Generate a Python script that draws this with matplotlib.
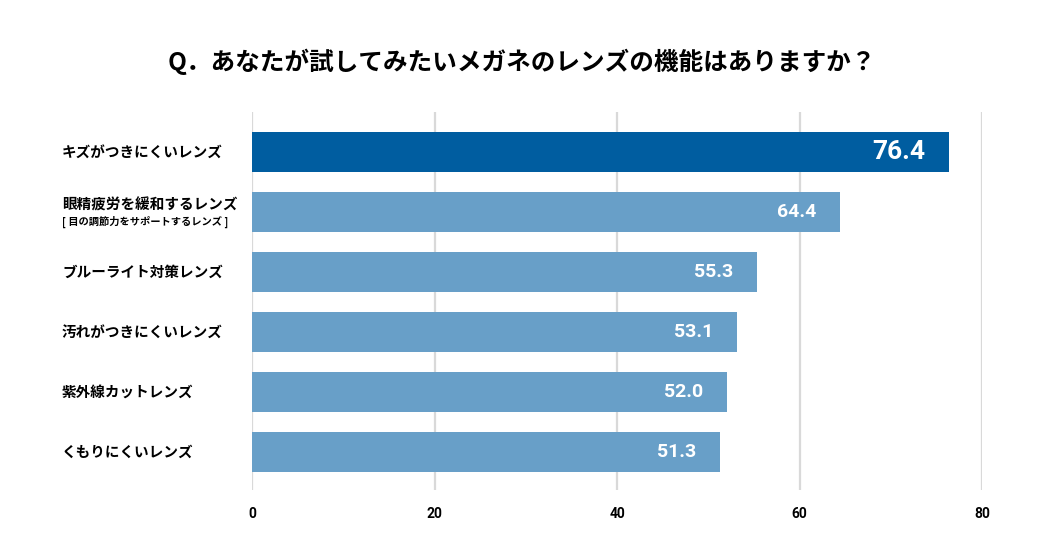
import matplotlib
matplotlib.use("Agg")
import matplotlib.pyplot as plt
from matplotlib.transforms import blended_transform_factory

categories = ["キズがつきにくいレンズ", "眼精疲労を緩和するレンズ", "ブルーライト対策レンズ",
              "汚れがつきにくいレンズ", "紫外線カットレンズ", "くもりにくいレンズ"]
sublabels = ["", "[ 目の調節力をサポートするレンズ ]", "", "", "", ""]
values = [76.4, 64.4, 55.3, 53.1, 52.0, 51.3]
xticks = [0, 20, 40, 60, 80]
title = "Q．あなたが試してみたいメガネのレンズの機能はありますか？"

CJK = ["Noto Sans CJK JP", "DejaVu Sans"]
plt.rcParams['font.family'] = CJK

fig = plt.figure(figsize=(10.44, 5.58), dpi=100)
ax = fig.add_axes([252/1044, 1-490/558, 730/1044, 378/558])

colors = ["#005DA0"] + ["#689FC8"] * (len(values) - 1)
ypos = list(range(len(values)))
for x in xticks:
    ax.axvline(x, color="#d9d9d9", lw=1.6, zorder=0)
ax.barh(ypos, values, height=0.667, color=colors, zorder=2)

ax.set_xlim(0, 80)
ax.set_ylim(5.633, -0.667)
ax.set_yticks([])
ax.set_xticks(xticks)
ax.set_xticklabels([str(t) for t in xticks], fontfamily="Roboto", fontweight="bold", fontsize=10)
ax.tick_params(axis="x", length=0, pad=12)
for s in ax.spines.values():
    s.set_visible(False)

for i, v in enumerate(values):
    fs = 19 if i == 0 else 14
    ax.annotate(f"{v:.1f}", xy=(v, i), xytext=(-17, 0), textcoords="offset points",
                ha="right", va="center", color="white", fontfamily="Roboto",
                fontweight="bold", fontsize=fs, zorder=3)

tr = blended_transform_factory(fig.transFigure, ax.transData)
for i, (c, sub) in enumerate(zip(categories, sublabels)):
    if sub:
        ax.text(62/1044, i - 0.12, c, transform=tr, ha="left", va="center",
                fontsize=10.5, fontweight="bold", family=CJK)
        ax.text(62/1044, i + 0.17, sub, transform=tr, ha="left", va="center",
                fontsize=7.4, fontweight="bold", family=CJK)
    else:
        ax.text(62/1044, i, c, transform=tr, ha="left", va="center",
                fontsize=10.5, fontweight="bold", family=CJK)

fig.text(522/1044, 1-62/558, title, ha="center", va="center", fontsize=17.7,
         fontweight="bold", family=CJK)

fig.savefig("out.png", dpi=100)
